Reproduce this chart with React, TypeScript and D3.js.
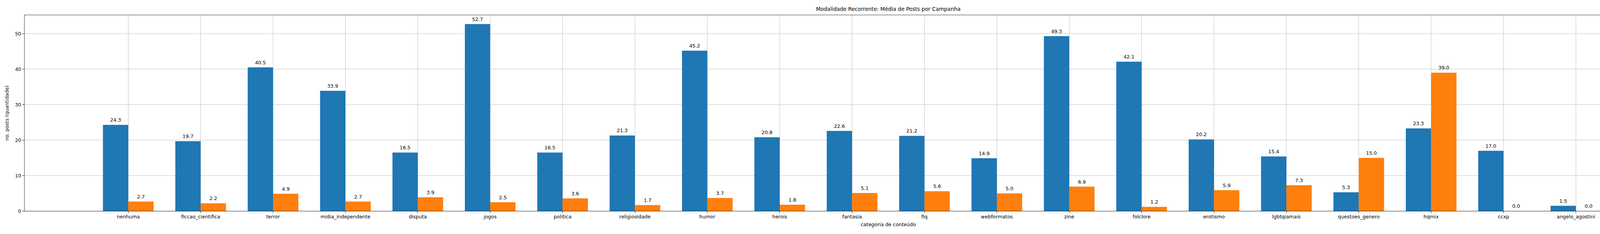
import React from 'react';
import * as d3 from 'd3';

const categories = ['nenhuma', 'ficcao_cientifica', 'terror', 'midia_independente', 'disputa', 'jogos', 'politica', 'religiosidade', 'humor', 'herois', 'fantasia', 'fiq', 'webformatos', 'zine', 'folclore', 'erotismo', 'lgbtqiamais', 'questoes_genero', 'hqmix', 'ccxp', 'angelo_agostini', 'saloes_humor'];
const sucesso = [24.3, 19.7, 40.5, 33.9, 16.5, 52.7, 16.5, 21.3, 45.2, 20.8, 22.6, 21.2, 14.9, 49.3, 42.1, 20.2, 15.4, 5.3, 23.3, 17.0, 1.5, 0.0];
const falha = [2.7, 2.2, 4.9, 2.7, 3.9, 2.5, 3.6, 1.7, 3.7, 1.8, 5.1, 5.6, 5.0, 6.9, 1.2, 5.9, 7.3, 15.0, 39.0, 0.0, 0.0, 0.0];
const yTicks = [0, 10, 20, 30, 40, 50];

const W = 4500, H = 600;
const m = { left: 62.3, top: 38.3, right: 4485.7, bottom: 541.3 };
const font = 'DejaVu Sans, sans-serif';
const fs = 12.5;

export default function App() {
  const x = d3.scaleLinear().domain([-1.436, 22.436]).range([m.left, m.right]);
  const y = d3.scaleLinear().domain([0, 55.27]).range([m.bottom, m.top]);
  const bw = 0.35;
  const pxW = x(bw) - x(0);
  const series = [
    { vals: sucesso, off: -bw / 2, color: '#1f77b4' },
    { vals: falha, off: bw / 2, color: '#ff7f0e' },
  ];
  return (
    <svg width={W} height={H} style={{ position: 'absolute', left: 0, top: 0, background: '#fff' }} fontFamily={font}>
      <text x={(m.left + m.right) / 2} y={28} textAnchor="middle" fontSize={fs + 1}>Modalidade Recorrente: Média de Posts por Campanha</text>
      {categories.map((c, i) => (
        <g key={c}>
          <line x1={x(i)} x2={x(i)} y1={m.top} y2={m.bottom} stroke="#b0b0b0" strokeWidth={0.8} />
          <line x1={x(i)} x2={x(i)} y1={m.bottom} y2={m.bottom + 5} stroke="#000" />
          <text x={x(i)} y={m.bottom + 19} textAnchor="middle" fontSize={fs}>{c}</text>
        </g>
      ))}
      {yTicks.map(t => (
        <g key={t}>
          <line x1={m.left} x2={m.right} y1={y(t)} y2={y(t)} stroke="#b0b0b0" strokeWidth={0.8} />
          <line x1={m.left - 5} x2={m.left} y1={y(t)} y2={y(t)} stroke="#000" />
          <text x={m.left - 8} y={y(t) + 4.5} textAnchor="end" fontSize={fs}>{t}</text>
        </g>
      ))}
      {series.map((s, si) => s.vals.map((v, i) => (
        <g key={si + '-' + i}>
          <rect x={x(i + s.off) - pxW / 2} y={y(v)} width={pxW} height={m.bottom - y(v)} fill={s.color} />
          <text x={x(i + s.off)} y={y(v) - 8} textAnchor="middle" fontSize={fs}>{v.toFixed(1)}</text>
        </g>
      )))}
      <rect x={m.left} y={m.top} width={m.right - m.left} height={m.bottom - m.top} fill="none" stroke="#000" strokeWidth={0.8} />
      <text x={(m.left + m.right) / 2} y={580} textAnchor="middle" fontSize={fs}>categoria de conteúdo</text>
      <text transform={`translate(22,${(m.top + m.bottom) / 2}) rotate(-90)`} textAnchor="middle" fontSize={fs}>no. posts (quantidade)</text>
      <g transform="translate(4251,52)">
        <rect x={0} y={0} width={227} height={54} fill="#fff" fillOpacity={0.8} stroke="#d0d0d0" rx={2} />
        <rect x={6} y={8} width={28} height={10} fill="#1f77b4" />
        <text x={45} y={18} fontSize={fs}>média de posts (sucesso)</text>
        <rect x={6} y={33} width={28} height={10} fill="#ff7f0e" />
        <text x={45} y={43} fontSize={fs}>média de posts (falha)</text>
      </g>
    </svg>
  );
}
